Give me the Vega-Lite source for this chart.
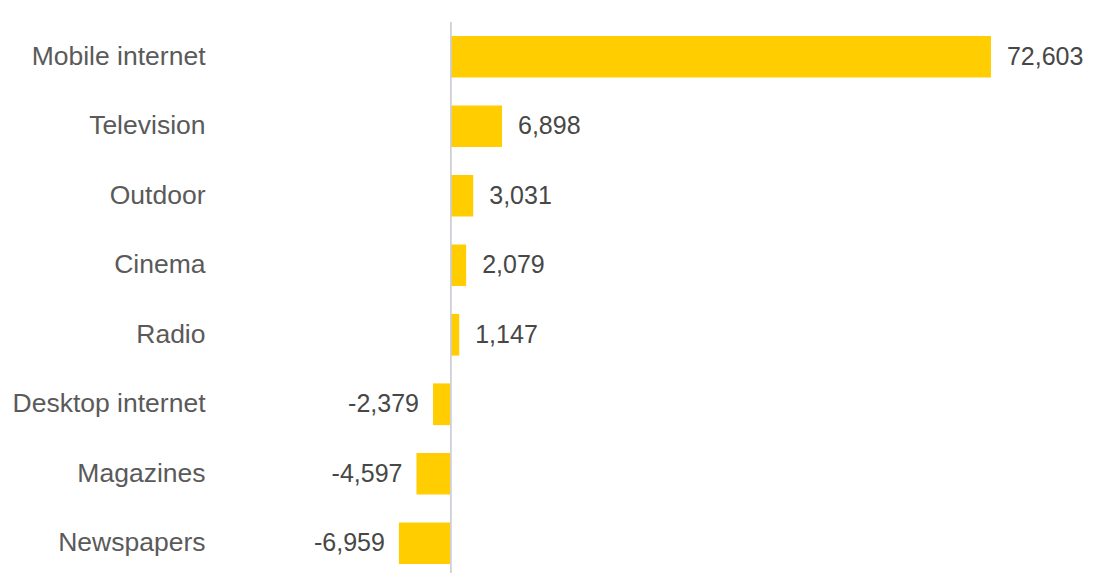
{
  "$schema": "https://vega.github.io/schema/vega-lite/v6.json",
  "autosize": {"type": "none"},
  "padding": {"left": 220, "top": 22, "right": 51, "bottom": 0},
  "width": 826,
  "height": 556,
  "background": "white",
  "config": {"view": {"stroke": null}, "font": "Liberation Sans"},
  "data": {
    "values": [
      {"medium": "Mobile internet", "value": 72603, "label": "72,603"},
      {"medium": "Television", "value": 6898, "label": "6,898"},
      {"medium": "Outdoor", "value": 3031, "label": "3,031"},
      {"medium": "Cinema", "value": 2079, "label": "2,079"},
      {"medium": "Radio", "value": 1147, "label": "1,147"},
      {"medium": "Desktop internet", "value": -2379, "label": "-2,379"},
      {"medium": "Magazines", "value": -4597, "label": "-4,597"},
      {"medium": "Newspapers", "value": -6959, "label": "-6,959"}
    ]
  },
  "encoding": {
    "y": {
      "field": "medium",
      "type": "nominal",
      "sort": null,
      "scale": {"paddingInner": 0.4, "paddingOuter": 0.2},
      "axis": {
        "title": null,
        "domain": false,
        "ticks": false,
        "labelPadding": 15,
        "labelFontSize": 26.5,
        "labelLimit": 400,
        "labelColor": "#5a5a5a",
        "labelFont": "Liberation Sans"
      }
    }
  },
  "layer": [
    {
      "mark": {"type": "bar", "color": "#FFCD00"},
      "encoding": {
        "x": {
          "field": "value",
          "type": "quantitative",
          "scale": {"domain": [-31000, 80000], "nice": false, "zero": true},
          "axis": null
        }
      }
    },
    {
      "mark": {"type": "rule", "color": "#cfcfd8", "strokeWidth": 1},
      "encoding": {"x": {"datum": 0, "type": "quantitative"}, "y": null}
    },
    {
      "transform": [{"filter": "datum.value >= 0"}],
      "mark": {"type": "text", "align": "left", "baseline": "middle", "dx": 16, "fontSize": 25, "color": "#474747"},
      "encoding": {
        "x": {"field": "value", "type": "quantitative"},
        "text": {"field": "label"}
      }
    },
    {
      "transform": [{"filter": "datum.value < 0"}],
      "mark": {"type": "text", "align": "right", "baseline": "middle", "dx": -14, "fontSize": 25, "color": "#474747"},
      "encoding": {
        "x": {"field": "value", "type": "quantitative"},
        "text": {"field": "label"}
      }
    }
  ]
}
